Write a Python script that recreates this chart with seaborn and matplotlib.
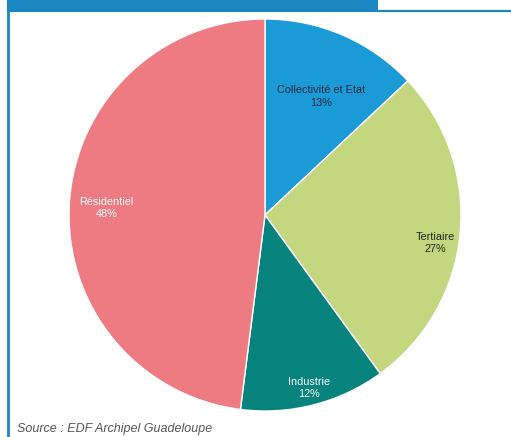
import matplotlib
matplotlib.use('Agg')
import matplotlib.pyplot as plt
import numpy as np
import seaborn as sns

# data
categories = ['Collectivité et Etat', 'Tertiaire', 'Industrie', 'Résidentiel']
shares = [13, 27, 12, 48]
colors = ['#1a9ad6', '#c4d67e', '#06837c', '#ee7a82']
text_colors = ['#1e2a3a', '#1e2a1e', 'white', 'white']
# label placement: fraction of radius, angular nudge (deg)
label_r = [0.67, 0.88, 0.91, 0.81]
label_nudge = [-2, -4, 0, 1]
source = 'Source : EDF Archipel Guadeloupe'

sns.set_theme(style='white')
plt.rcParams['font.family'] = ['Liberation Sans', 'DejaVu Sans']

W, H = 511, 437
fig = plt.figure(figsize=(W / 100, H / 100), dpi=100)
fig.patch.set_facecolor('white')
ax = fig.add_axes([0, 0, 1, 1])

# frame: header bar + blue lines
blue = '#1a88c3'
ax.add_patch(plt.Rectangle((7, H - 12), 371, 12, color=blue, lw=0))
ax.plot([378, W], [H - 11, H - 11], color=blue, lw=1.6, solid_capstyle='butt')
ax.plot([8, 8], [0, H], color=blue, lw=2, solid_capstyle='butt')

cx, cy, R = 265, H - 215, 196
wedges, _ = ax.pie(shares, colors=colors, startangle=90, counterclock=False,
                   center=(cx, cy), radius=R, frame=True,
                   wedgeprops=dict(edgecolor='white', linewidth=1))
ax.set_xlim(0, W)
ax.set_ylim(0, H)
ax.axis('off')
ax.set_aspect('equal')

for w, name, val, tc, rf, nd in zip(wedges, categories, shares, text_colors,
                                     label_r, label_nudge):
    ang = np.deg2rad((w.theta1 + w.theta2) / 2 + nd)
    x = cx + rf * R * np.cos(ang)
    y = cy + rf * R * np.sin(ang)
    ax.text(x, y, f'{name}\n{val}%', ha='center', va='center',
            color=tc, fontsize=7.8, linespacing=1.3)

ax.text(17, 8, source, ha='left', va='center', fontsize=9,
        style='italic', color='#555555')

fig.savefig('out.png', dpi=100)
